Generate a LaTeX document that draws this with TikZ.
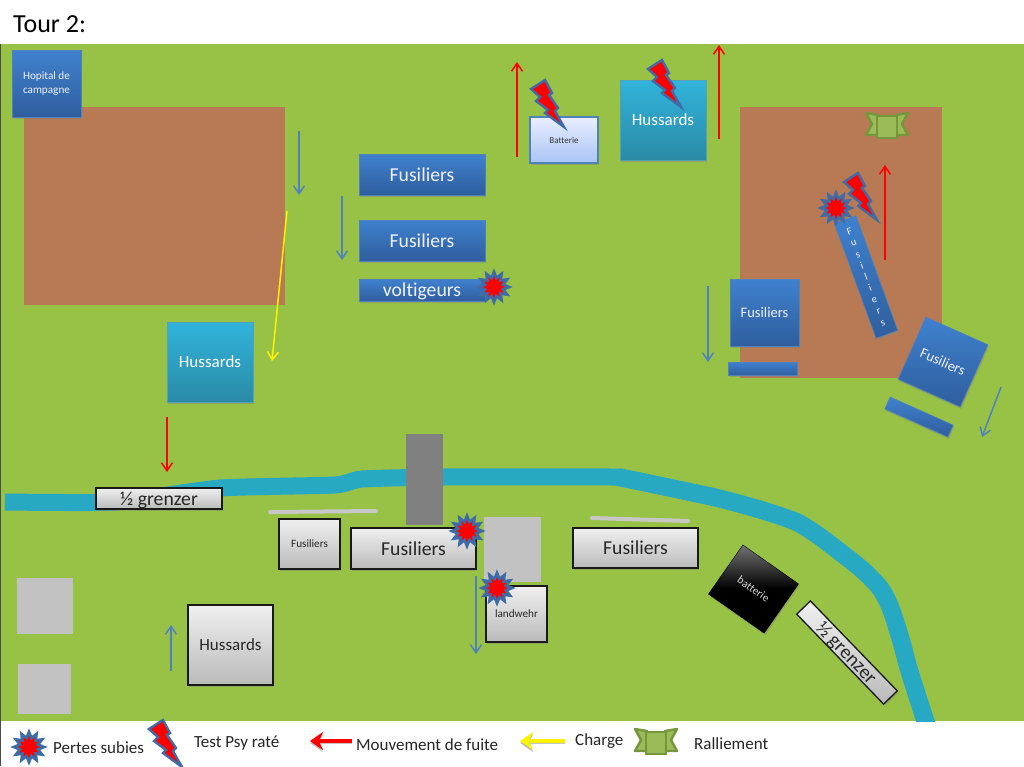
\documentclass[tikz,border=0pt]{standalone}
\usepackage{fontspec}
\setmainfont[Ligatures=NoCommon]{Carlito}
\usepackage{tikz}
\usetikzlibrary{arrows.meta,shapes.geometric,shadows}
\definecolor{grass}{HTML}{98C246}
\definecolor{earth}{HTML}{B87A55}
\definecolor{river}{HTML}{27A8C3}
\definecolor{blueup}{HTML}{3F81CE}
\definecolor{bluedown}{HTML}{2F5E9E}
\definecolor{tealup}{HTML}{31B4DB}
\definecolor{tealdown}{HTML}{2A8AA6}
\definecolor{paperup}{HTML}{E9EFFF}
\definecolor{paperdown}{HTML}{A9C4F5}
\definecolor{marine}{HTML}{3F6CA6}
\definecolor{troop}{HTML}{4F81BD}
\definecolor{rallydark}{HTML}{76963C}
\definecolor{rallylight}{HTML}{9BBB59}

\begin{document}
\begin{tikzpicture}[x=1pt,y=-1pt,
  unit/.style={inner sep=0pt, align=center, drop shadow={opacity=.4, shadow xshift=1pt, shadow yshift=-2pt}},
  bluebox/.style={unit, top color=blueup, bottom color=bluedown, draw=troop, line width=.6pt, text=blue!6},
  tealbox/.style={unit, top color=tealup, bottom color=tealdown, draw=tealdown!80, line width=.6pt, text=white},
  greybox/.style={unit, top color=black!6, bottom color=black!27, draw=black!90, line width=1.3pt, text=black!85},
  paper/.style={unit, top color=paperup, bottom color=paperdown, draw=troop, line width=1.4pt, text=black!80},
  blackbox/.style={unit, top color=black!55, bottom color=black, middle color=black, draw=black, text=white!85!black},
  big/.style={font=\fontsize{19.7}{23}\selectfont, text height=13.4pt, text depth=0pt},
  mid/.style={font=\fontsize{17}{20}\selectfont, text height=11.5pt, text depth=0pt},
  small/.style={font=\fontsize{14.5}{17}\selectfont, text height=9.9pt, text depth=0pt},
  tiny/.style={font=\fontsize{11.2}{13}\selectfont, text height=7.6pt, text depth=0pt},
  lab/.style={anchor=west, inner sep=0pt, text=black!85, font=\fontsize{17}{20}\selectfont},
  move/.style={-{Straight Barb[length=8pt,width=11pt]}, line width=1.5pt, color=troop},
  flee/.style={move, color=red},
  charge/.style={move, color=yellow},
  bigarrow/.style={-{Stealth[length=13pt,width=18pt,inset=4pt]}, line width=4.5pt,
                   preaction={draw=black!45, opacity=.5, transform canvas={yshift=-2pt}}},
  burst/.style={star, star points=12, star point ratio=1.6, draw=marine, fill=red,
                line width=2.8pt, minimum size=30pt, inner sep=0pt},
  bolt/.pic={\draw[fill=red, draw=marine, line width=2.4pt, line join=miter]
    (-16,-14) -- (-2,-23) -- (5,-10) -- (2,-8) -- (11,5) -- (8,8) -- (17,24) -- (-2,10) -- (1,7)
    -- (-11,-2) -- (-7,-6) -- cycle;},
  rally/.pic={\draw[fill=rallylight, draw=rallydark, line width=2.4pt, line join=round]
      (-21,-14) -- (-9,-12) -- (-9,8) -- (-21,8) -- (-15,-3) -- cycle
      (21,-14) -- (9,-12) -- (9,8) -- (21,8) -- (15,-3) -- cycle;
    \draw[fill=rallylight, draw=rallydark, line width=2.4pt] (-10,-11) rectangle (10,11);}]

  % page, field and legend strip
  \useasboundingbox (0,0) rectangle (1024,766);
  \fill[white] (0,0) rectangle (1024,766);
  \fill[grass] (0,44) rectangle (1024,721);
  \draw[black!70, line width=1.6pt] (0,44) -- (0,766);
  \node[anchor=west, inner sep=0pt, font=\fontsize{26}{30}\selectfont] (title) at (13,24) {Tour 2:};

  % ground
  \fill[earth] (24,107) rectangle (285,305);
  \fill[earth] (740,107) rectangle (942,378);
  \begin{scope}
    \clip (0,44) rectangle (1024,721);
    \draw[river, line width=17pt] plot[smooth, tension=.3] coordinates {(5,502) (115,502) (220,488) (335,485)
      (362,479) (443,477) (620,477)};
    \draw[river, line width=18pt] plot[smooth, tension=.7] coordinates {(618,477) (690,492) (733,502) (783,517) (807,528) (840,552) (870,577)
      (887,600) (900,637) (910,673) (930,735)};
  \end{scope}
  \fill[black!50] (406,434) rectangle (443,525);
  \fill[black!24] (484,517) rectangle (541,582);
  \fill[black!24] (17,578) rectangle (73,634);
  \fill[black!24] (18,664) rectangle (71,714);
  \draw[black!22, line width=4pt, line cap=round] (270,512) -- (376,511);
  \draw[black!22, line width=4pt, line cap=round] (592,518) -- (688,521);

  % blue side
  \node[bluebox, minimum width=69pt, minimum height=67pt, font=\fontsize{11.2}{14}\selectfont] (hopital) at (46.5,83.5) {Hopital de\\campagne};
  \node[bluebox, big, minimum width=126pt, minimum height=41pt] (fusiliersA) at (422,174.5) {Fusiliers};
  \node[bluebox, big, minimum width=126pt, minimum height=41pt] (fusiliersB) at (422,240.5) {Fusiliers};
  \node[bluebox, big, minimum width=126pt, minimum height=22pt] (voltigeurs) at (422,290) {voltigeurs};
  \node[tealbox, mid, minimum width=86pt, minimum height=80pt] (hussardsA) at (210,362) {Hussards};
  \node[tealbox, mid, minimum width=86pt, minimum height=80pt] (hussardsB) at (663,120) {Hussards};
  \node[paper, font=\fontsize{9}{11}\selectfont, minimum width=68pt, minimum height=46pt] (batterieA) at (564,140) {Batterie};
  \node[bluebox, small, minimum width=69pt, minimum height=67pt] (fusiliersC) at (764.5,312.5) {Fusiliers};
  \node[bluebox, minimum width=69pt, minimum height=13pt] (lineC) at (762.5,368.5) {};
  \node[bluebox, small, rotate=-24, minimum width=68pt, minimum height=68pt] (fusiliersD) at (943,362) {Fusiliers};
  \node[bluebox, rotate=-24, minimum width=69pt, minimum height=13pt] (lineD) at (919,417) {};
  \node[bluebox, rotate=20, minimum width=23pt, minimum height=122pt, font=\fontsize{10.5}{12.1}\selectfont] (fusiliersE) at (866,277)
    {F\\u\\s\\i\\l\\i\\e\\r\\s};

  % grey side
  \node[greybox, big, minimum width=126pt, minimum height=21pt] (grenzerA) at (159,498.5) {½ grenzer};
  \node[greybox, tiny, minimum width=61pt, minimum height=50pt] (fusiliersF) at (309.5,544) {Fusiliers};
  \node[greybox, big, minimum width=125pt, minimum height=41pt] (fusiliersG) at (413.5,548.5) {Fusiliers};
  \node[greybox, big, minimum width=125pt, minimum height=40pt] (fusiliersH) at (635.5,548) {Fusiliers};
  \node[greybox, tiny, minimum width=61pt, minimum height=56pt] (landwehr) at (516.5,614) {landwehr};
  \node[greybox, mid, minimum width=85pt, minimum height=80pt] (hussardsC) at (230.5,645) {Hussards};
  \node[blackbox, tiny, rotate=-35, minimum width=68pt, minimum height=60pt] (batterieB) at (753.5,589) {batterie};
  \node[greybox, big, rotate=-46, minimum width=125pt, minimum height=19pt] (grenzerB) at (847,652.5) {½ grenzer};

  % moves
  \draw[move] (299,131) -- (299,195);
  \draw[move] (342,196) -- (342,260);
  \draw[move] (708,286) -- (708,362);
  \draw[move] (1001,387) -- (982,437);
  \draw[move] (476,576) -- (476,654);
  \draw[move] (171,671) -- (171,625);
  \draw[flee] (167,417) -- (167,472);
  \draw[flee] (517,157) -- (517,62);
  \draw[flee] (719,139) -- (719,45);
  \draw[flee] (885,260) -- (885,165);
  \draw[charge] (287,211) -- (272,361);

  % markers
  \node[burst] (burstA) at (494,287) {};
  \node[burst] (burstB) at (836,208) {};
  \node[burst] (burstC) at (467,531) {};
  \node[burst] (burstD) at (497,588) {};
  \pic at (547,103) {bolt};
  \pic at (664,83) {bolt};
  \pic at (860,196) {bolt};
  \pic at (887,127) {rally};

  % legend
  \node[burst] (burstE) at (29,747) {};
  \node[lab] (pertes) at (53,748) {Pertes subies};
  \pic at (165,743) {bolt};
  \node[lab] (test) at (194,743) {Test Psy raté};
  \draw[bigarrow, red] (352,741) -- (310,741);
  \node[lab] (fuite) at (356,745) {Mouvement de fuite};
  \draw[bigarrow, yellow] (565,741) -- (520,741);
  \node[lab] (charge) at (575,741) {Charge};
  \pic at (656,743) {rally};
  \node[lab] (ralliement) at (694,744) {Ralliement};
\end{tikzpicture}
\end{document}
